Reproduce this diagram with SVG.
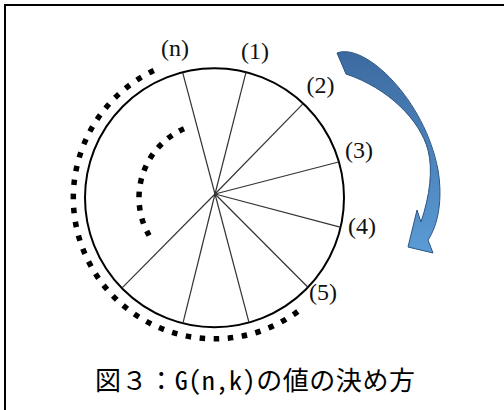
<svg xmlns="http://www.w3.org/2000/svg" width="504" height="410" viewBox="0 0 504 410">
  <defs>
    <linearGradient id="arrowGrad" x1="0" y1="0" x2="0" y2="1">
      <stop offset="0" stop-color="#3c6aa0"/>
      <stop offset="1" stop-color="#5b9bd5"/>
    </linearGradient>
  </defs>
  <style>
    .frame { fill: #ffffff; stroke: #000000; stroke-width: 2; }
    .ring { fill: none; stroke: #000000; stroke-width: 2; }
    .spoke { stroke: #333333; stroke-width: 1.2; fill: none; }
    .dots { fill: none; stroke: #000000; stroke-width: 5.5; }
    .lbl { font-family: "Liberation Serif", "DejaVu Serif", serif; font-size: 24px; fill: #111111; text-anchor: middle; }
    .cap { font-family: "Noto Sans Mono CJK JP", "Noto Sans CJK JP", sans-serif; font-size: 26px; fill: #000000; }
    .arrow { fill: url(#arrowGrad); stroke: #2b5582; stroke-width: 1; }
  </style>
  <rect class="frame" x="5" y="5" width="520" height="430"/>

  <g id="wheel">
    <circle class="ring" cx="214.5" cy="197.75" r="129.5"/>
  </g>

  <g id="connectors">
    <line class="spoke" x1="215" y1="194" x2="182.7" y2="72.7"/>
    <line class="spoke" x1="215" y1="194" x2="245.9" y2="72.6"/>
    <line class="spoke" x1="215" y1="194" x2="302.9" y2="103.8"/>
    <line class="spoke" x1="215" y1="194" x2="338.5" y2="162"/>
    <line class="spoke" x1="215" y1="194" x2="340.1" y2="227.2"/>
    <line class="spoke" x1="215" y1="194" x2="307.7" y2="287"/>
    <line class="spoke" x1="215" y1="194" x2="248.9" y2="322.1"/>
    <line class="spoke" x1="215" y1="194" x2="183" y2="322.8"/>
    <line class="spoke" x1="215" y1="194" x2="122.1" y2="287.8"/>
  </g>

  <g id="outer-dots">
    <path class="dots" stroke-dasharray="5.5 8.56" d="M153.8,70.5 A141,141 0 1 0 300.3,309.6"/>
  </g>
  <g id="inner-dots">
    <path class="dots" stroke-dasharray="5.5 7.98" d="M184,128.7 A75.5,75.5 0 0 0 149.1,235.5"/>
  </g>

  <g id="rotation-arrow">
    <path class="arrow" d="M337,53 C365,42 425,100 438,170 C443,200 438,225 428,240 L433,253 L408,247 L417,210 L421,222 C430,195 433,170 428,150 C420,120 388,88 346,74 Z"/>
  </g>

  <g id="labels">
    <text class="lbl" x="175" y="56" font-size="20">(n)</text>
    <text class="lbl" x="255" y="59">(1)</text>
    <text class="lbl" x="320.5" y="93">(2)</text>
    <text class="lbl" x="359" y="158">(3)</text>
    <text class="lbl" x="362" y="233.5">(4)</text>
    <text class="lbl" x="323" y="299.5">(5)</text>
  </g>

  <g id="caption">
    <text class="cap" x="95" y="390" textLength="320" lengthAdjust="spacing">図３：G(n,k)の値の決め方</text>
  </g>
</svg>
